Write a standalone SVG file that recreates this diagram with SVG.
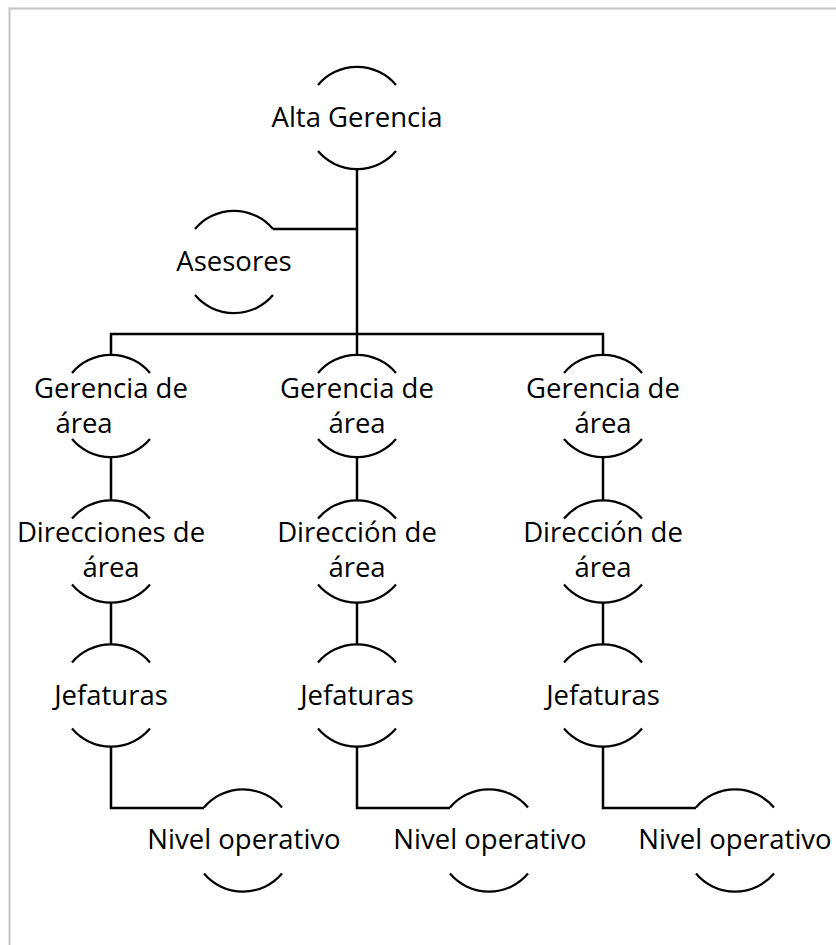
<svg xmlns="http://www.w3.org/2000/svg" width="836" height="945" viewBox="0 0 836 945">
  <style>
    .arc { fill: none; stroke: #000; stroke-width: 2.2; }
    .link { fill: none; stroke: #000; stroke-width: 2.5; }
    .lbl { font-family: "Open Sans", "Liberation Sans", sans-serif; font-size: 27.5px; fill: #000; text-anchor: middle; }
  </style>
  <defs>
    <!-- node outline: top and bottom arcs of a circle, r = 51 -->
    <g id="shell">
      <path class="arc" d="M -39 -33 A 51 51 0 0 1 39 -33"/>
      <path class="arc" d="M -39 33 A 51 51 0 0 0 39 33"/>
    </g>
  </defs>

  <rect width="836" height="945" fill="#fff"/>
  <!-- page frame -->
  <path d="M 9.5 945 V 8.5 H 836" fill="none" stroke="#c4c4c4" stroke-width="2"/>

  <g id="connectors">
    <path class="link" d="M 357 169 V 334"/>
    <path class="link" d="M 273 229 H 357"/>
    <path class="link" d="M 111 355 V 334 H 603 V 355"/>
    <path class="link" d="M 357 334 V 355"/>
    <path class="link" d="M 111 457 V 501"/>
    <path class="link" d="M 357 457 V 501"/>
    <path class="link" d="M 603 457 V 501"/>
    <path class="link" d="M 111 602 V 644"/>
    <path class="link" d="M 357 602 V 644"/>
    <path class="link" d="M 603 602 V 644"/>
    <path class="link" d="M 111 747 V 808 H 204"/>
    <path class="link" d="M 357 747 V 808 H 450"/>
    <path class="link" d="M 603 747 V 808 H 696"/>
  </g>

  <g id="alta-gerencia">
    <use href="#shell" x="357" y="118"/>
    <text class="lbl" x="357" y="127">Alta Gerencia</text>
  </g>
  <g id="asesores">
    <use href="#shell" x="234" y="262"/>
    <text class="lbl" x="234" y="271">Asesores</text>
  </g>

  <g id="gerencia-1">
    <use href="#shell" x="111" y="406"/>
    <text class="lbl" x="111" y="398">Gerencia de</text>
    <text class="lbl" x="84" y="432.5">área</text>
  </g>
  <g id="gerencia-2">
    <use href="#shell" x="357" y="406"/>
    <text class="lbl" x="357" y="398">Gerencia de</text>
    <text class="lbl" x="357" y="432.5">área</text>
  </g>
  <g id="gerencia-3">
    <use href="#shell" x="603" y="406"/>
    <text class="lbl" x="603" y="398">Gerencia de</text>
    <text class="lbl" x="603" y="432.5">área</text>
  </g>

  <g id="direccion-1">
    <use href="#shell" x="111" y="551.5"/>
    <text class="lbl" x="111" y="542">Direcciones de</text>
    <text class="lbl" x="111" y="577">área</text>
  </g>
  <g id="direccion-2">
    <use href="#shell" x="357" y="551.5"/>
    <text class="lbl" x="357" y="542">Dirección de</text>
    <text class="lbl" x="357" y="577">área</text>
  </g>
  <g id="direccion-3">
    <use href="#shell" x="603" y="551.5"/>
    <text class="lbl" x="603" y="542">Dirección de</text>
    <text class="lbl" x="603" y="577">área</text>
  </g>

  <g id="jefaturas-1">
    <use href="#shell" x="111" y="695.5"/>
    <text class="lbl" x="111" y="705">Jefaturas</text>
  </g>
  <g id="jefaturas-2">
    <use href="#shell" x="357" y="695.5"/>
    <text class="lbl" x="357" y="705">Jefaturas</text>
  </g>
  <g id="jefaturas-3">
    <use href="#shell" x="603" y="695.5"/>
    <text class="lbl" x="603" y="705">Jefaturas</text>
  </g>

  <g id="operativo-1">
    <use href="#shell" x="243" y="840.5"/>
    <text class="lbl" x="244" y="849">Nivel operativo</text>
  </g>
  <g id="operativo-2">
    <use href="#shell" x="489" y="840.5"/>
    <text class="lbl" x="490" y="849">Nivel operativo</text>
  </g>
  <g id="operativo-3">
    <use href="#shell" x="735" y="840.5"/>
    <text class="lbl" x="735" y="849">Nivel operativo</text>
  </g>
</svg>
